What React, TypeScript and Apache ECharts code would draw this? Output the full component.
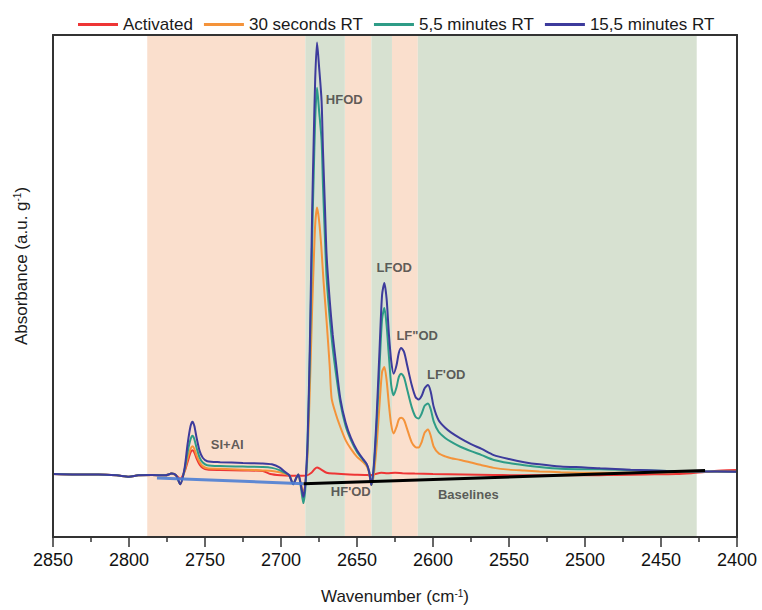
import { useEffect, useRef } from "react";
import * as echarts from "echarts";

type Pt = [number, number];

// Spectra: [wavenumber (cm-1), absorbance (a.u./g)]
const flatStart: Pt[] = [
  [2850, 0.003], [2835, 0.002], [2820, 0.002], [2808, 0.0], [2800, -0.003],
  [2794, 0.0], [2785, 0.001], [2776, 0.0], [2772, 0.004], [2769, 0.0],
];

const activated: Pt[] = [
  ...flatStart,
  [2766.3, -0.008], [2763.5, 0.008], [2761.5, 0.03], [2759.5, 0.052], [2758.2, 0.057],
  [2757, 0.052], [2755.5, 0.038], [2753.5, 0.024], [2751.5, 0.017], [2748.5, 0.013],
  [2740, 0.012], [2725, 0.011], [2712, 0.01], [2707, 0.003], [2700, 0.0],
  [2694, -0.001], [2688, -0.001], [2683, 0.0], [2680, 0.006], [2678, 0.014],
  [2676.3, 0.018], [2674, 0.014], [2670, 0.006], [2665, 0.004], [2655, 0.002],
  [2645, 0.001], [2641, 0.0], [2638, 0.003], [2634, 0.006], [2630, 0.005],
  [2625, 0.006], [2620, 0.005], [2612, 0.004], [2600, 0.003], [2580, 0.002],
  [2560, 0.001], [2540, 0.0], [2520, 0.0], [2500, 0.0], [2480, 0.001],
  [2460, 0.002], [2440, 0.003], [2430, 0.005], [2420, 0.008], [2410, 0.011],
  [2400, 0.012],
];

const rt30s: Pt[] = [
  ...flatStart,
  [2766.3, -0.02], [2763.5, 0.01], [2761.5, 0.038], [2759.5, 0.06], [2758.2, 0.066],
  [2757, 0.06], [2755.5, 0.045], [2753.5, 0.03], [2751.5, 0.021], [2748.5, 0.016],
  [2740, 0.015], [2725, 0.013], [2712, 0.011], [2706, 0.01], [2701, 0.007],
  [2697, 0.003], [2694.5, 0.0], [2692, -0.02], [2690, -0.006], [2688.6, 0.002],
  [2687, -0.018], [2685.3, -0.039], [2684, -0.02], [2682.5, 0.05], [2681, 0.2],
  [2679.5, 0.38], [2678.5, 0.48], [2677.5, 0.57], [2676.3, 0.608], [2675, 0.58],
  [2673.5, 0.52], [2672, 0.44], [2670, 0.35], [2668, 0.25], [2666.7, 0.175],
  [2664, 0.14], [2661, 0.11], [2657.5, 0.08], [2654, 0.06], [2650, 0.042],
  [2646, 0.03], [2643.5, 0.02], [2642, 0.005], [2640.6, -0.022], [2639, 0.0],
  [2637, 0.07], [2635, 0.17], [2633.5, 0.235], [2632, 0.246], [2630.5, 0.215],
  [2629, 0.16], [2627.5, 0.115], [2625.9, 0.095], [2624, 0.11], [2622.5, 0.127],
  [2620.9, 0.131], [2619, 0.125], [2617, 0.105], [2614, 0.075], [2611.5, 0.064],
  [2609.5, 0.063], [2607.5, 0.075], [2605.5, 0.097], [2603.3, 0.104], [2601.5, 0.09],
  [2599.5, 0.065], [2596.3, 0.05], [2592, 0.043], [2588, 0.039], [2582, 0.035],
  [2575, 0.029], [2568, 0.023], [2560, 0.017], [2550, 0.013], [2540, 0.011],
  [2530, 0.009], [2516, 0.007], [2500, 0.006], [2490, 0.006], [2470, 0.006],
  [2446, 0.007], [2424, 0.008], [2400, 0.008],
];

const rt5min: Pt[] = [
  ...flatStart,
  [2766.3, -0.02], [2763.5, 0.012], [2761.5, 0.052], [2759.5, 0.082], [2758.2, 0.09],
  [2757, 0.082], [2755.5, 0.062], [2753.5, 0.04], [2751.5, 0.029], [2748.5, 0.023],
  [2740, 0.021], [2725, 0.02], [2712, 0.019], [2706, 0.017], [2701, 0.012],
  [2697, 0.005], [2694.5, 0.0], [2692, -0.02], [2690, -0.006], [2688.6, 0.002],
  [2687, -0.025], [2685.3, -0.063], [2684, -0.03], [2682.5, 0.07], [2681, 0.27],
  [2679.5, 0.54], [2678.5, 0.68], [2677.5, 0.81], [2676.3, 0.88], [2675, 0.83],
  [2673.3, 0.76], [2672.4, 0.66], [2671, 0.53], [2670, 0.45], [2668, 0.36],
  [2666, 0.29], [2664, 0.235], [2661, 0.165], [2657.5, 0.112], [2654, 0.08],
  [2650, 0.053], [2646, 0.035], [2643.5, 0.024], [2642, 0.008], [2640.6, -0.022],
  [2639, 0.015], [2637, 0.12], [2635, 0.26], [2633.5, 0.355], [2632, 0.38],
  [2630.5, 0.34], [2629, 0.27], [2627.5, 0.205], [2625.9, 0.182], [2624, 0.2],
  [2622.5, 0.223], [2620.9, 0.231], [2619, 0.222], [2617, 0.195], [2614, 0.155],
  [2611.5, 0.133], [2609.5, 0.129], [2607.5, 0.14], [2605.5, 0.158], [2603.3, 0.163],
  [2601.5, 0.15], [2599.5, 0.122], [2596.3, 0.099], [2592, 0.085], [2588, 0.076],
  [2582, 0.065], [2575, 0.055], [2568, 0.046], [2560, 0.035], [2550, 0.028],
  [2540, 0.023], [2530, 0.019], [2516, 0.015], [2500, 0.014], [2490, 0.014],
  [2470, 0.012], [2446, 0.01], [2424, 0.009], [2400, 0.008],
];

const rt15min: Pt[] = [
  ...flatStart,
  [2766.3, -0.02], [2763.5, 0.015], [2761.5, 0.07], [2759.5, 0.112], [2758.2, 0.122],
  [2757, 0.112], [2755.5, 0.085], [2753.5, 0.055], [2751.5, 0.04], [2748.5, 0.032],
  [2740, 0.03], [2725, 0.028], [2712, 0.027], [2706, 0.025], [2701, 0.018],
  [2697, 0.007], [2694.5, 0.0], [2692, -0.02], [2690, -0.006], [2688.6, 0.002],
  [2687, -0.02], [2685.3, -0.049], [2684, -0.02], [2682.5, 0.08], [2681, 0.3],
  [2679.5, 0.6], [2678.5, 0.76], [2677.5, 0.9], [2676.3, 0.983], [2675, 0.93],
  [2673.3, 0.85], [2672.4, 0.74], [2671, 0.6], [2670, 0.5], [2668, 0.4],
  [2666, 0.32], [2664, 0.26], [2661, 0.175], [2657.5, 0.12], [2654, 0.085],
  [2650, 0.057], [2646, 0.037], [2643.5, 0.025], [2642, 0.008], [2640.6, -0.022],
  [2639, 0.02], [2637, 0.14], [2635, 0.3], [2633.5, 0.41], [2632, 0.437],
  [2630.5, 0.4], [2629, 0.32], [2627.5, 0.26], [2625.9, 0.231], [2624, 0.25],
  [2622.5, 0.278], [2620.9, 0.289], [2619, 0.28], [2617, 0.25], [2614, 0.205],
  [2611.5, 0.178], [2609.5, 0.172], [2607.5, 0.18], [2605.5, 0.198], [2603.3, 0.205],
  [2601.5, 0.19], [2599.5, 0.155], [2596.3, 0.125], [2592, 0.108], [2588, 0.097],
  [2582, 0.084], [2575, 0.071], [2568, 0.06], [2560, 0.046], [2550, 0.037],
  [2540, 0.03], [2530, 0.025], [2516, 0.02], [2500, 0.018], [2490, 0.016],
  [2470, 0.013], [2446, 0.01], [2424, 0.009], [2400, 0.008],
];

// Linear baselines used for integration
const baselineSiAl: Pt[] = [[2781.6, -0.006], [2685.1, -0.019]];
const baselineOD: Pt[] = [[2685.1, -0.019], [2421, 0.011]];

// Integration windows
const peachBands: [number, number][] = [[2788, 2684], [2658, 2640.5], [2627, 2610]];
const sageBands: [number, number][] = [[2684, 2658], [2640.5, 2627], [2610, 2426.5]];

// Band annotations: [text, wavenumber, absorbance]
const bandLabels: [string, number, number][] = [
  ["HFOD", 2658.4, 0.854],
  ["LFOD", 2625.5, 0.473],
  ["LF\"OD", 2610.4, 0.317],
  ["LF'OD", 2591.3, 0.23],
  ["SI+AI", 2735.4, 0.07],
  ["HF'OD", 2654.1, -0.036],
  ["Baselines", 2576.8, -0.043],
];

const seriesNames = ["Activated", "30 seconds RT", "5,5 minutes RT", "15,5 minutes RT"];
const seriesColors = ["#ee3535", "#f4933a", "#2e9c87", "#3d3b9c"];
const seriesData = [activated, rt30s, rt5min, rt15min];

const FONT = "'Liberation Sans', Arial, sans-serif";

export default function App() {
  const ref = useRef<HTMLDivElement>(null);

  useEffect(() => {
    document.body.style.margin = "0";
    const chart = echarts.init(ref.current!, null, { renderer: "svg" });

    const bandData = [
      ...peachBands.map(([a, b]) => [
        { xAxis: a, itemStyle: { color: "rgb(250,223,205)" } },
        { xAxis: b },
      ]),
      ...sageBands.map(([a, b]) => [
        { xAxis: a, itemStyle: { color: "rgb(215,225,209)" } },
        { xAxis: b },
      ]),
    ];

    const lineSeries = seriesData.map((d, i) => ({
      name: seriesNames[i],
      type: "line",
      data: d,
      symbol: "none",
      smooth: 0.25,
      z: i === 0 ? 2 : 3,
      lineStyle: { color: seriesColors[i], width: 2 },
      itemStyle: { color: seriesColors[i] },
    }));

    chart.setOption({
      animation: false,
      textStyle: { fontFamily: FONT },
      legend: {
        data: seriesNames.map((n) => ({ name: n, icon: "rect" })),
        top: 11,
        left: 73,
        itemWidth: 40,
        itemHeight: 3,
        itemGap: 11,
        textStyle: { fontSize: 17, color: "#1a1a1a", fontFamily: FONT },
      },
      grid: { left: 53, right: 25, top: 35, bottom: 71 },
      xAxis: [
        {
          type: "value",
          min: 2400,
          max: 2850,
          interval: 50,
          inverse: true,
          z: 10,
          axisLine: { show: true, onZero: false, lineStyle: { color: "#333", width: 2 } },
          axisTick: { show: true, inside: false, length: 10, lineStyle: { color: "#333", width: 1.5 } },
          minorTick: { show: true, splitNumber: 2, length: 5, lineStyle: { color: "#333", width: 1.5 } },
          axisLabel: {
            fontSize: 18,
            color: "#111",
            margin: 14,
            fontFamily: FONT,
            formatter: (v: number) => String(v),
          },
          splitLine: { show: false },
          name: "{t|Wavenumber (cm}{s|-1}{t|)}",
          nameLocation: "middle",
          nameGap: 51,
          nameTextStyle: {
            rich: {
              t: { fontSize: 17, color: "#1a1a1a", fontFamily: FONT },
              s: { fontSize: 10, color: "#1a1a1a", fontFamily: FONT, verticalAlign: "top" },
            },
          },
        },
        {
          type: "value",
          position: "top",
          min: 2400,
          max: 2850,
          inverse: true,
          z: 10,
          axisLine: { show: true, onZero: false, lineStyle: { color: "#333", width: 2 } },
          axisTick: { show: false },
          axisLabel: { show: false },
          splitLine: { show: false },
        },
      ],
      yAxis: [
        {
          type: "value",
          min: -0.14,
          max: 1.0,
          z: 10,
          axisLine: { show: true, onZero: false, lineStyle: { color: "#333", width: 2 } },
          axisTick: { show: false },
          axisLabel: { show: false },
          splitLine: { show: false },
        },
        {
          type: "value",
          position: "right",
          min: -0.14,
          max: 1.0,
          z: 10,
          axisLine: { show: true, onZero: false, lineStyle: { color: "#333", width: 2 } },
          axisTick: { show: false },
          axisLabel: { show: false },
          splitLine: { show: false },
        },
      ],
      graphic: [
        {
          type: "text",
          x: 21,
          y: 266,
          rotation: Math.PI / 2,
          style: {
            text: "{t|Absorbance (a.u. g}{s|-1}{t|)}",
            align: "center",
            verticalAlign: "middle",
            rich: {
              t: { fontSize: 17, fill: "#1a1a1a", fontFamily: FONT },
              s: { fontSize: 10, fill: "#1a1a1a", fontFamily: FONT, verticalAlign: "top" },
            },
          },
        },
      ],
      series: [
        {
          name: "bands",
          type: "line",
          data: [],
          z: 1,
          silent: true,
          markArea: { silent: true, data: bandData },
        },
        ...lineSeries,
        {
          name: "baseline-sial",
          type: "line",
          data: baselineSiAl,
          symbol: "none",
          z: 4,
          lineStyle: { color: "#4d7ed4", width: 3, opacity: 0.9 },
        },
        {
          name: "baseline-od",
          type: "line",
          data: baselineOD,
          symbol: "none",
          z: 4,
          lineStyle: { color: "#000", width: 3 },
        },
        {
          name: "labels",
          type: "scatter",
          z: 5,
          silent: true,
          symbolSize: 0.1,
          itemStyle: { color: "transparent" },
          data: bandLabels.map(([t, x, y]) => ({ name: t, value: [x, y] })),
          label: {
            show: true,
            position: "inside",
            formatter: "{b}",
            fontSize: 13,
            fontWeight: "bold",
            color: "#383838",
            fontFamily: FONT,
          },
        },
      ],
    });

    return () => chart.dispose();
  }, []);

  return <div ref={ref} style={{ width: 762, height: 610 }} />;
}
